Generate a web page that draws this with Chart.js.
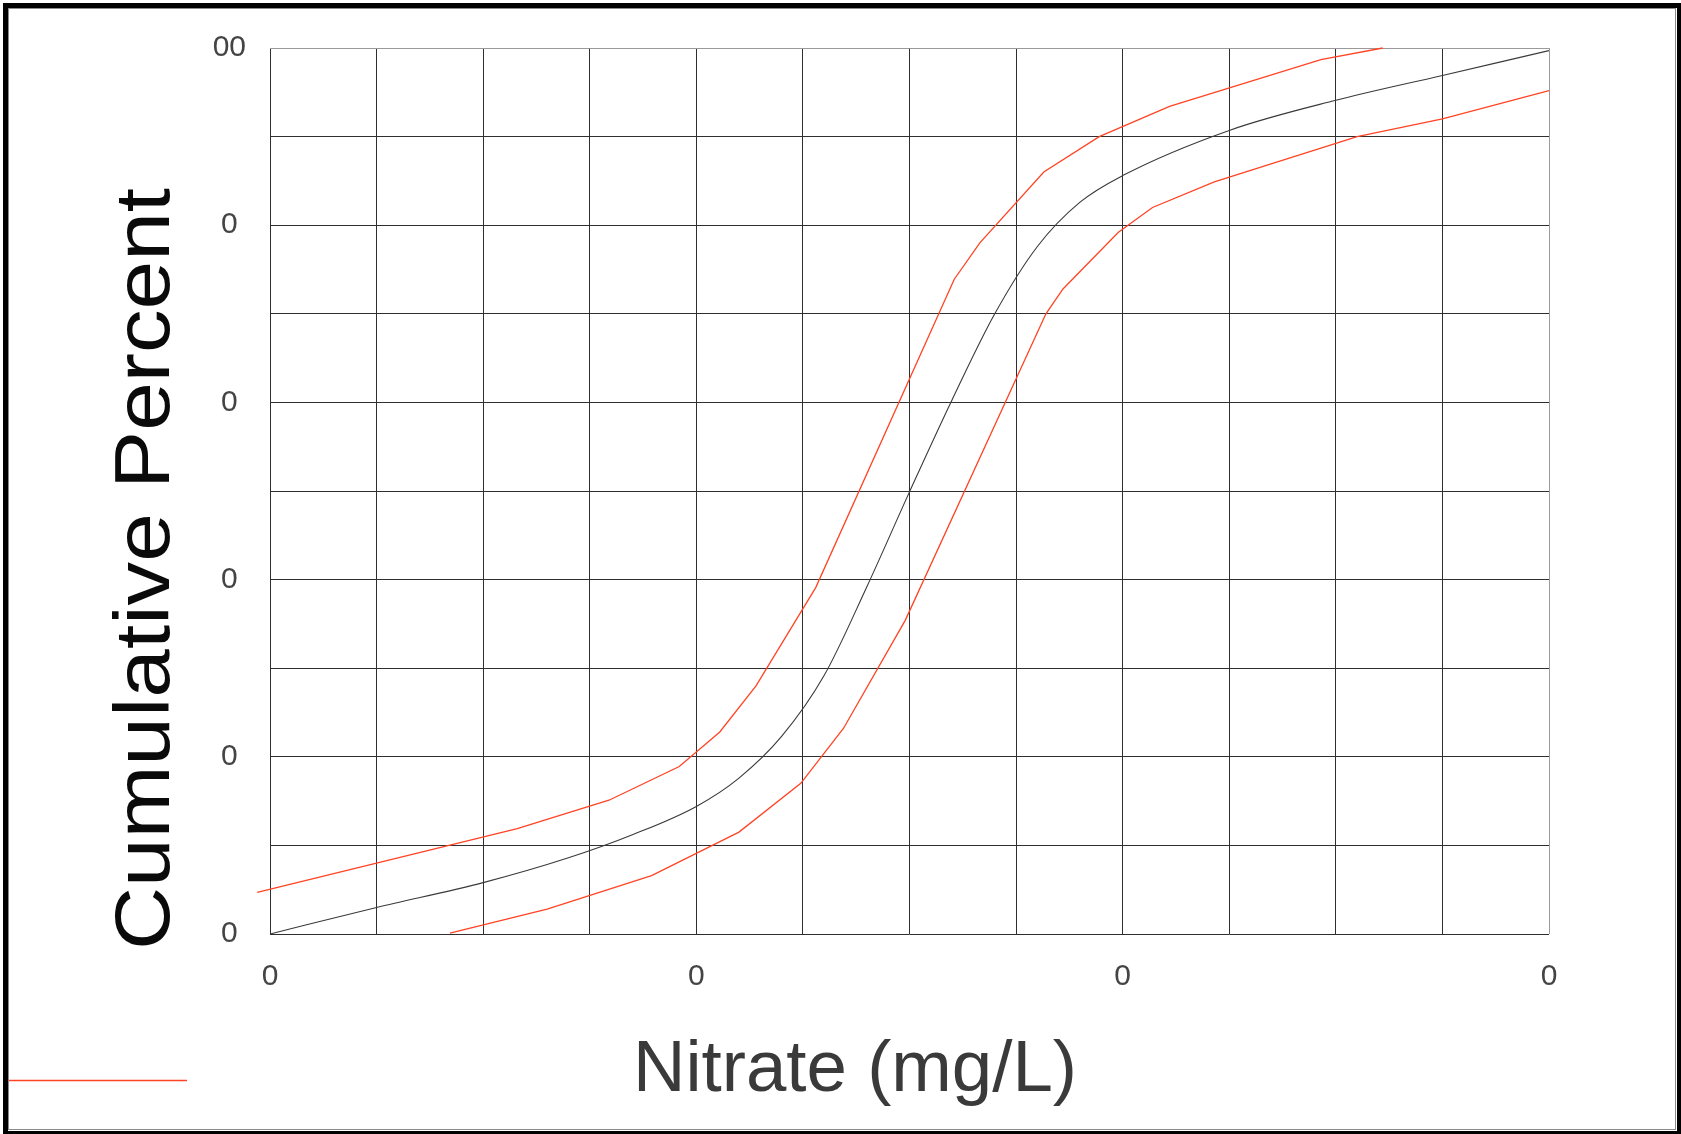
<!DOCTYPE html>
<html>
<head>
<meta charset="utf-8">
<script src="https://cdn.jsdelivr.net/npm/chart.js@4.4.1/dist/chart.umd.min.js"></script>
<style>
  html, body { margin: 0; padding: 0; background: #fff; overflow: hidden; }
  #wrap { position: absolute; left: 0; top: 0; width: 1681px; height: 1134px; }
  #frame { position: absolute; left: 3px; top: 3px; width: 1669px; height: 1123px;
           border: 5px solid #000; pointer-events: none; box-sizing: content-box; }
  #frame2 { position: absolute; left: 8px; top: 8px; width: 1668px; height: 1122px;
           border: 1px solid #8a8a8a; pointer-events: none; box-sizing: border-box; }
</style>
</head>
<body>
<div id="wrap">
  <canvas id="c" width="1681" height="1134"></canvas>
  <div id="frame"></div>
  <div id="frame2"></div>
</div>
<script>
// ---- data ----
const xTitle = 'Nitrate (mg/L)';
const yTitle = 'Cumulative Percent';

const xTickValues = [0, 20, 40, 60];
const xTickLabels = ['0', '0', '0', '0'];
const yTickValues = [0, 20, 40, 60, 80, 100];
const yTickLabels = ['0', '0', '0', '0', '0', '00'];

// central (black) curve
const midX = [0, 5, 10, 14, 17, 20, 22, 24, 26, 28, 30, 32, 34, 36, 38, 40, 45, 50, 55, 60];
const midY = [0, 3.0, 5.8, 8.6, 11.2, 14.4, 17.6, 22.3, 29.2, 39.2, 49.9, 60.3, 70.0, 77.6, 82.6, 85.6, 90.7, 94.1, 96.9, 99.7];

// upper (red) bound
const upX = [-0.6, 11.6, 15.9, 19.2, 21.1, 22.8, 25.6, 32.1, 33.3, 36.3, 38.9, 42.2, 49.3, 52.2];
const upY = [4.7, 11.9, 15.1, 18.9, 22.8, 28.0, 39.1, 73.9, 78.0, 86.0, 90.0, 93.4, 98.7, 100.0];

// lower (red) bound
const loX = [8.44, 13.0, 17.9, 22.0, 24.9, 26.9, 29.8, 36.4, 37.2, 39.8, 41.4, 44.3, 51.0, 55.0, 60.0];
const loY = [0.1, 2.8, 6.6, 11.5, 17.0, 23.2, 35.4, 70.0, 72.8, 79.2, 82.0, 84.9, 90.0, 92.0, 95.2];

const pts = (xs, ys) => xs.map((x, i) => ({ x: x, y: ys[i] }));

const RED = '#ff4424';
const GRID = '#2f2f2f';
const FONT = '"Liberation Sans", Arial, sans-serif';

const decor = {
  id: 'decor',
  afterDraw(chart) {
    const ctx = chart.ctx;
    ctx.save();
    // y title (rotated)
    ctx.font = '78px ' + FONT;
    ctx.fillStyle = '#0a0a0a';
    let w = ctx.measureText(yTitle).width;
    ctx.translate(169, 569);
    ctx.rotate(-Math.PI / 2);
    ctx.scale(762 / w, 1);
    ctx.textAlign = 'center';
    ctx.textBaseline = 'alphabetic';
    ctx.fillText(yTitle, 0, 0);
    ctx.restore();

    ctx.save();
    ctx.font = '73px ' + FONT;
    ctx.fillStyle = '#3a3a3a';
    w = ctx.measureText(xTitle).width;
    ctx.translate(855, 1091);
    ctx.scale(444 / w, 1);
    ctx.textAlign = 'center';
    ctx.textBaseline = 'alphabetic';
    ctx.fillText(xTitle, 0, 0);
    ctx.restore();

    // legend line
    ctx.save();
    ctx.strokeStyle = RED;
    ctx.lineWidth = 1.5;
    ctx.beginPath();
    ctx.moveTo(9, 1080.5);
    ctx.lineTo(187, 1080.5);
    ctx.stroke();
    ctx.restore();
  }
};

new Chart(document.getElementById('c'), {
  type: 'scatter',
  data: {
    datasets: [
      { data: pts(midX, midY), showLine: true, borderColor: '#3a3a3a', borderWidth: 1.1,
        pointRadius: 0, cubicInterpolationMode: 'monotone', fill: false },
      { data: pts(upX, upY), showLine: true, borderColor: RED, borderWidth: 1.3,
        pointRadius: 0, tension: 0, fill: false, clip: { left: 20, top: 2, right: 0, bottom: 0 } },
      { data: pts(loX, loY), showLine: true, borderColor: RED, borderWidth: 1.3,
        pointRadius: 0, tension: 0, fill: false, clip: { left: 0, top: 0, right: 4, bottom: 0 } }
    ]
  },
  options: {
    responsive: false,
    animation: false,
    devicePixelRatio: 1,
    layout: { padding: { left: 0, top: 48, right: 132, bottom: 0 } },
    plugins: { legend: { display: false }, tooltip: { enabled: false }, title: { display: false } },
    scales: {
      x: {
        type: 'linear', min: 0, max: 60,
        afterFit(s) { s.height = 200; },
        afterBuildTicks(s) { s.ticks = []; for (let v = 0; v <= 60; v += 5) s.ticks.push({ value: v }); },
        grid: { color: (c) => c.tick && c.tick.value === 60 ? '#9a9a9a' : GRID, lineWidth: 1, drawTicks: false },
        border: { display: false },
        ticks: {
          autoSkip: false, maxRotation: 0, padding: 25,
          color: '#444', font: { family: FONT, size: 30 },
          callback: (v) => { const i = xTickValues.indexOf(v); return i >= 0 ? xTickLabels[i] : ''; }
        }
      },
      y: {
        type: 'linear', min: 0, max: 100,
        afterFit(s) { s.width = 270; },
        afterBuildTicks(s) { s.ticks = []; for (let v = 0; v <= 100; v += 10) s.ticks.push({ value: v }); },
        grid: { color: (c) => c.tick && c.tick.value === 100 ? '#9a9a9a' : GRID, lineWidth: 1, drawTicks: false },
        border: { display: false },
        ticks: {
          autoSkip: false, padding: 24, crossAlign: 'center',
          color: '#444', font: { family: FONT, size: 30 },
          callback: (v) => { const i = yTickValues.indexOf(v); return i >= 0 ? yTickLabels[i] : ''; }
        }
      }
    }
  },
  plugins: [decor]
});
</script>
</body>
</html>
